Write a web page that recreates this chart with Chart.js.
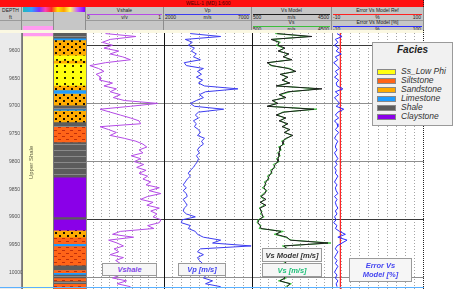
<!DOCTYPE html>
<html>
<head>
<meta charset="utf-8">
<script src="https://cdn.jsdelivr.net/npm/chart.js@4.4.1/dist/chart.umd.min.js"></script>
<style>
body{margin:0;width:453px;height:289px;overflow:hidden;background:#fff;position:relative;font-family:"Liberation Sans",Arial,sans-serif}
div,canvas{position:absolute;box-sizing:border-box}
.hd{background:#c6c6c6;border-right:1px solid #8c8c8c;top:7px;height:23px;overflow:hidden}
.t5{font-size:5px;line-height:5px;color:#222;white-space:nowrap}
.tag{background:#f6f6f6;border:1px solid #9a9a9a;font:italic bold 7.5px "Liberation Sans",Arial,sans-serif;text-align:center;display:flex;align-items:center;justify-content:center;line-height:9px}
#legend{left:372px;top:42px;width:81px;height:84px;background:#f1f1f1;border:1px solid #9a9a9a}
#legend .ttl{left:24px;top:1px;font:italic bold 10px "Liberation Sans",Arial,sans-serif;color:#222}
#legend .sw{left:4px;width:19px;height:6px;border:1px solid #888}
#legend .lb{left:28px;font:italic 8.5px "Liberation Sans",Arial,sans-serif;color:#333;line-height:9px;white-space:nowrap}
</style>
</head>
<body>
<div style="left:0;top:0;width:424px;height:7px;background:#ff1010"><div class="t5" style="left:186px;top:1px;color:#400">WELL-1 (MD) 1:600</div></div>
<div style="left:0;top:30px;width:424px;height:3px;background:#fbf8e2"></div>
<div id="legend"></div>
<script>
// depth of each log sample (ft)
const depths=[9580,9585,9590,9595,9600,9605,9610,9615,9620,9625,
 9630,9635,9640,9645,9650,9655,9660,9665,9670,9675,
 9680,9685,9690,9695,9700,9705,9710,9715,9720,9725,
 9730,9735,9740,9745,9750,9755,9760,9765,9770,9775,
 9780,9785,9790,9795,9800,9805,9810,9815,9820,9825,
 9830,9835,9840,9845,9850,9855,9860,9865,9870,9875,
 9880,9885,9890,9895,9900,9905,9910,9915,9920,9925,
 9930,9935,9940,9945,9950,9955,9960,9965,9970,9975,
 9980,9985,9990,9995,10000,10005,10010,10015];
const vshale=[0.25,0.64,0.31,0.21,0.34,0.23,0.42,0.31,0.47,0.57,
 0.25,0.05,0.16,0.23,0.13,0.19,0.18,0.34,0.23,0.39,
 0.31,0.44,0.35,0.49,0.92,0.57,0.18,0.31,0.44,0.57,
 0.68,0.70,0.18,0.29,0.39,0.31,0.49,0.64,0.73,0.78,
 0.68,0.73,0.58,0.70,0.62,0.74,0.65,0.77,0.68,0.79,
 0.73,0.83,0.77,0.94,0.81,0.96,0.79,0.70,0.86,0.78,
 0.94,0.83,0.91,0.86,0.96,0.94,0.79,0.87,0.44,0.34,
 0.61,0.29,0.40,0.48,0.36,0.42,0.31,0.48,0.38,0.44,
 0.42,0.47,0.38,0.44,0.34,0.52,0.40,0.57];
const vp=[3500,5220,3210,3610,3380,3730,3550,3840,3670,4070,
 3150,3270,4240,3900,4130,3840,4190,3960,4300,6200,
 4360,4010,4240,3840,3500,3730,5390,3960,3780,3960,
 3670,3840,3730,3960,4070,3900,4300,4130,4240,4010,
 3900,4010,3840,3960,3900,3780,3670,3500,3380,3500,
 3320,3210,3090,3270,3090,3270,3320,3090,3210,3320,
 3150,3090,3270,3780,3040,2980,3500,3380,3780,3900,
 4240,5220,4760,6950,4070,3900,4240,3900,4010,4190,
 4070,4360,4130,4420,4240,4760,4360,5220];
const vs=[1660,3330,1510,1920,1710,2070,1870,2270,2120,2420,
 1310,1410,2420,2630,1970,2220,2070,2320,1770,3840,
 2420,1920,2120,1560,1710,1310,3740,2020,1770,2120,
 1920,2220,2070,2320,2170,2470,2270,1970,2120,1820,
 1970,1770,1920,1710,1870,1560,1660,1410,1510,1260,
 1360,1110,1210,1010,1260,1060,910,1110,960,1110,
 850,1010,910,1110,800,750,960,850,2070,1610,
 2170,2470,4450,2020,2320,1870,2220,1970,2320,2070,
 2420,2020,2270,1920,2220,1820,2470,2170];
const vsModel=[1760,3500,1450,1850,1800,2150,1800,2350,2050,2500,
 1250,1500,2300,2700,1900,2300,2000,2400,1700,4000,
 2300,1850,2200,1500,1800,1250,3600,2100,1700,2200,
 1850,2300,2000,2400,2100,2550,2200,2050,2050,1900,
 1900,1850,1850,1800,1800,1650,1600,1500,1450,1350,
 1300,1200,1150,1100,1200,1150,950,1200,900,1200,
 900,950,1000,1050,850,800,900,950,1950,1700,
 2250,2400,4300,2100,2250,1950,2150,2050,2250,2150,
 2350,2100,2200,2000,2150,1900,2400,2250];
const errVs=[-4,2,-6,-3,-7,-2,-5,1,-6,-3,
 -8,-4,-1,-6,-3,-7,-2,-5,-4,3,
 -6,-2,-7,-4,-1,-5,4,-3,-6,-2,
 -7,-4,-3,-6,-2,-5,-7,-3,-5,-6,
 -4,-7,-5,-3,-6,-4,-7,-5,-6,-3,
 -5,-7,-4,-6,-5,-3,-7,-4,-6,-5,
 -3,-6,-4,-7,-5,-8,-4,-6,-1,6,
 -3,8,2,-4,-6,-3,-5,-7,-4,-6,
 -3,-5,-7,-4,-6,-3,-5,-4];
const errRef=0;
const depthLabels=[9600,9650,9700,9750,9800,9850,9900,9950,10000];
const gridDepths=[9600,9700,9800,9900,10000];
const majorDepths=[9600,9900];
const depthMin=9579, depthMax=10019;
const vshRange=[0,1], vpRange=[2000,7000], vsRange=[500,4500], errRange=[-10,100];

const faciesNames=['Ss_Low Phi','Siltstone','Sandstone','Limestone','Shale','Claystone'];
const faciesTop=[9579,9588,9591,9617,9626,9631,9669,9677,9683,9703,9710,9712,9732,9740,9766,9827,9895,9899,9918,9930,9941,9945,9978,9986,9991,9994,10000,10005,10010];
const faciesBase=[9588,9591,9617,9626,9631,9669,9677,9683,9703,9710,9712,9732,9740,9766,9827,9895,9899,9918,9930,9941,9945,9978,9986,9991,9994,10000,10005,10010,10019];
const faciesType=['Shale','Limestone','Sandstone','Ss_Low Phi','Sandstone','Ss_Low Phi','Sandstone','Limestone','Sandstone','Shale',
 'Limestone','Sandstone','Shale','Siltstone','Shale','Claystone','Shale','Claystone','Sandstone','Siltstone',
 'Limestone','Siltstone','Shale','Siltstone','Limestone','Shale','Siltstone','Shale','Siltstone'];
const zoneTop=[9579,9584], zoneBase=[9584,10019], zoneName=['','Upper Shale'];

// styles
const faciesColors={'Ss_Low Phi':'#ffff10','Siltstone':'#ff6418','Sandstone':'#ffac00','Limestone':'#1e9cff','Shale':'#5c5c5c','Claystone':'#8a00e8'};
const zoneColors=['#ff9cf0','#ffffc6'];

Chart.defaults.font.family='"Liberation Sans", Arial, sans-serif';
const TOP=33,H=256;
const base={responsive:false,maintainAspectRatio:false,animation:false,events:[],layout:{padding:0},plugins:{legend:{display:false},tooltip:{enabled:false}}};

function canvasAt(left,width){const c=document.createElement('canvas');c.width=width;c.height=H;c.style.left=left+'px';c.style.top=TOP+'px';document.body.appendChild(c);return c;}
function box(css,cls,html){const d=document.createElement('div');if(cls)d.className=cls;d.style.cssText=css;if(html!=null)d.innerHTML=html;document.body.appendChild(d);return d;}
function pts(vals){return vals.map((v,i)=>({x:v,y:depths[i]}));}
function line(vals,color){return {data:pts(vals),borderColor:color,borderWidth:1,pointRadius:0,tension:0,fill:false};}
function pat(bg,fg,kind){
  const c=document.createElement('canvas');c.width=8;c.height=6;const g=c.getContext('2d');
  g.fillStyle=bg;g.fillRect(0,0,8,6);g.fillStyle=fg;
  if(kind==='dot'){g.fillRect(1,1,2,2);g.fillRect(5,4,2,2)}
  if(kind==='sparse'){g.fillRect(2,2,2,2)}
  if(kind==='dash'){g.fillRect(0,1,3,1);g.fillRect(4,4,3,1)}
  if(kind==='line'){g.fillRect(0,3,8,1)}
  return g.createPattern(c,'repeat');
}
function yAxis(edge){return {type:'linear',reverse:true,min:depthMin,max:depthMax,ticks:{display:false},
  grid:{drawTicks:false,lineWidth:1,color:c=>majorDepths.includes(c.tick.value)?'#3a3a3a':'#8e8e8e'},
  border:{display:true,color:edge,width:1},
  afterBuildTicks:s=>{s.ticks=gridDepths.map(v=>({value:v}))}};}
function xAxis(r){return {type:'linear',min:r[0],max:r[1],ticks:{display:false},
  grid:{drawTicks:false,color:'#a4a4a4',lineWidth:1},border:{display:false,dash:[1,2]},
  afterBuildTicks:s=>{s.ticks=[1,2,3,4,5,6,7,8,9].map(i=>({value:r[0]+(r[1]-r[0])*i/10}))}};}
function logTrack(left,width,range,sets,edge){
  return new Chart(canvasAt(left,width),{type:'line',data:{datasets:sets},options:{...base,scales:{x:xAxis(range),y:yAxis(edge)}}});
}
function bandTrack(left,width,tops,bases,fills,plugins){
  return new Chart(canvasAt(left,width),{type:'bar',
    data:{labels:['b'],datasets:tops.map((t,i)=>({data:[[t,bases[i]]],backgroundColor:fills[i],borderWidth:0,barPercentage:1,categoryPercentage:1,grouped:false}))},
    options:{...base,scales:{x:{display:false},y:{display:false,reverse:true,min:depthMin,max:depthMax}}},plugins:plugins||[]});
}

// depth track
box('left:0;top:33px;width:22px;height:256px;background:#ebebeb;border-right:1px solid #8a8a8a');
new Chart(canvasAt(0,22),{type:'line',data:{datasets:[]},options:{...base,scales:{
  x:{display:false,type:'linear',min:0,max:1},
  y:{type:'linear',reverse:true,min:depthMin,max:depthMax,grid:{display:false,drawTicks:false},border:{display:false},
     ticks:{mirror:true,padding:3,color:'#505050',font:{size:5},callback:v=>String(v)},
     afterBuildTicks:s=>{s.ticks=depthLabels.map(v=>({value:v}))}}}}});

// zone track
const zoneText={id:'zoneText',afterDatasetsDraw(ch){
  const g=ch.ctx,y=ch.scales.y;g.save();g.fillStyle='#5a5a40';g.font='6px "Liberation Sans", Arial';g.textAlign='center';g.textBaseline='middle';
  zoneName.forEach((n,i)=>{if(!n)return;const yc=(y.getPixelForValue(zoneTop[i])+y.getPixelForValue(zoneBase[i]))/2;
    g.save();g.translate(ch.chartArea.left+9,yc);g.rotate(-Math.PI/2);g.fillText(n,0,0);g.restore();});
  g.restore();}};
bandTrack(22,32,zoneTop,zoneBase,zoneColors,[zoneText]);

// facies track
const faciesFill={'Ss_Low Phi':pat(faciesColors['Ss_Low Phi'],'#2a2a00','sparse'),'Siltstone':pat(faciesColors['Siltstone'],'#c0300a','dash'),
  'Sandstone':pat(faciesColors['Sandstone'],'#1a1000','dot'),'Limestone':faciesColors['Limestone'],
  'Shale':pat(faciesColors['Shale'],'#8a8a8a','line'),'Claystone':faciesColors['Claystone']};
bandTrack(54,32,faciesTop,faciesBase,faciesType.map(t=>faciesFill[t]));
box('left:22px;top:33px;width:1px;height:256px;background:#777');
box('left:53px;top:33px;width:1px;height:256px;background:#777');

// log tracks
logTrack(86,78,vshRange,[line(vshale,'#b44be6')],'#8a8a8a');
logTrack(164,88,vpRange,[line(vp,'#3c3cf0')],'#111');
logTrack(252,80,vsRange,[line(vsModel,'#1e1e1e'),line(vs,'#3cbf3c')],'#111');
logTrack(332,92,errRange,[{...line(errVs,'#2a2aff')},
  {data:[{x:errRef,y:depthMin},{x:errRef,y:depthMax}],borderColor:'#ff2020',borderWidth:1.2,pointRadius:0}],'#8a8a8a');
box('left:423px;top:0;width:1px;height:289px;border-left:1px dotted #222');
box('left:0;top:287px;width:424px;height:1px;background:#5ab0ff');

// header
const headCells=[
  {left:0,w:22,rows:[['DEPTH',null,'','ft','']]},
  {left:22,w:32,rows:[['Zone',null,'','','']]},
  {left:54,w:32,rows:[]},
  {left:86,w:78,rows:[['Vshale','#b44be6',vshRange[0],'v/v',vshRange[1]]]},
  {left:164,w:88,rows:[['Vp','#3c3cf0',vpRange[0],'m/s',vpRange[1]]]},
  {left:252,w:80,rows:[['Vs Model','#1e1e1e',vsRange[0],'m/s',vsRange[1]],['Vs','#3cbf3c',vsRange[0],'m/s',vsRange[1]]]},
  {left:332,w:92,rows:[['Error Vs Model Ref','#ff2020',errRange[0],'%',errRange[1]],['Error Vs Model [%]','#2a2aff',errRange[0],'%',errRange[1]]]}
];
headCells.forEach(h=>{
  const d=box(`left:${h.left}px;width:${h.w}px`,'hd');
  h.rows.forEach((r,k)=>{
    const t=k*12;
    const nm=box(`left:0;width:${h.w-1}px;top:${t+1}px;text-align:center`,'t5',r[0]);d.appendChild(nm);
    if(r[1]){d.appendChild(box(`left:1px;width:${h.w-3}px;top:${t+7}px;height:1px;background:${r[1]}`));}
    d.appendChild(box(`left:1px;top:${t+8}px`,'t5',r[2]));
    d.appendChild(box(`left:0;width:${h.w-1}px;top:${t+8}px;text-align:center`,'t5',r[3]));
    d.appendChild(box(`right:2px;top:${t+8}px`,'t5',r[4]));
    if(k===0)d.appendChild(box(`left:0;width:${h.w}px;top:13px;height:1px;background:#9a9a9a`));
  });
});
box('left:23px;top:7px;width:62px;height:5px;background:linear-gradient(90deg,#20b8b8 0%,#30a0ff 14%,#7a30ff 26%,#ff40b0 36%,#ff2a2a 46%,#ffe000 56%,#ffa000 66%,#ffff60 76%,#c060ff 88%,#8000ff 100%)');
box('left:23px;top:26px;width:30px;height:4px;background:#ff9cf0');

// bottom curve tags
box('left:102px;top:263px;width:55px;height:13px;color:#8046e8','tag','Vshale');
box('left:178px;top:263px;width:48px;height:13px;color:#4646f0','tag','Vp [m/s]');
box('left:262px;top:248px;width:60px;height:14px;color:#333','tag','Vs Model [m/s]');
box('left:262px;top:263px;width:60px;height:14px;color:#22c07a','tag','Vs [m/s]');
box('left:349px;top:258px;width:63px;height:24px;color:#4646f0','tag','Error Vs<br>Model [%]');

// facies legend
const lg=document.getElementById('legend');
lg.appendChild(box('', 'ttl','Facies'));
faciesNames.forEach((n,i)=>{
  const top=26+i*9;
  lg.appendChild(box(`top:${top}px;background:${faciesColors[n]}`,'sw'));
  lg.appendChild(box(`top:${top-2}px`,'lb',n));
});
document.body.appendChild(lg);
</script>
</body>
</html>
